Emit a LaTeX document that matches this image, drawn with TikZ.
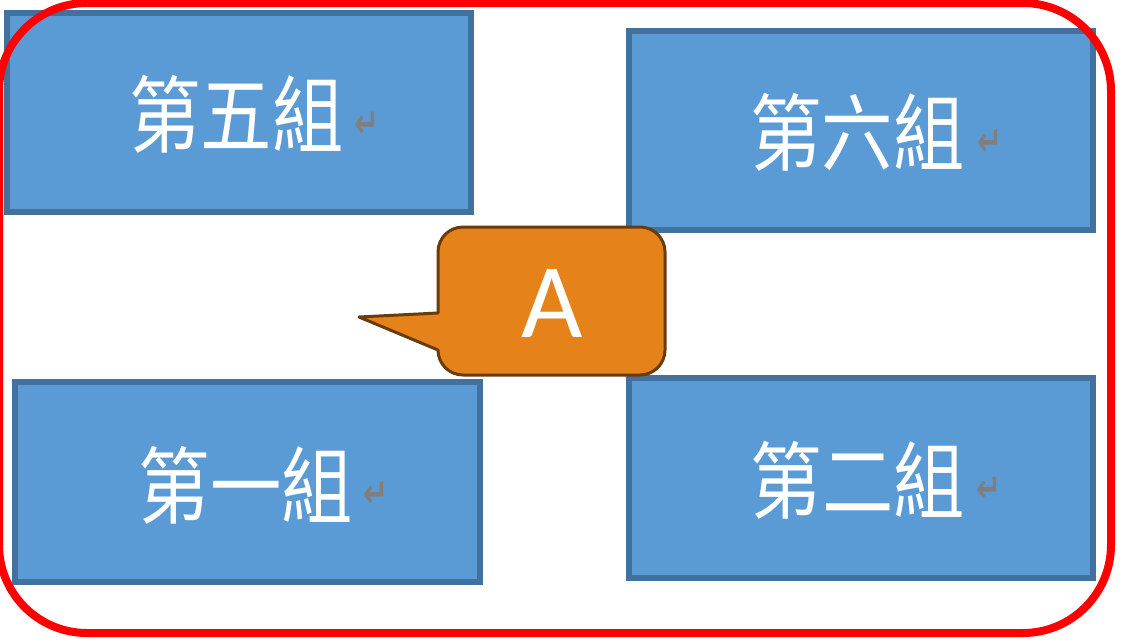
\documentclass[tikz,border=0pt]{standalone}
\usepackage{fontspec}
\newfontfamily\cjkfont{Noto Sans CJK TC}
\newfontfamily\dejavu{DejaVu Sans}
\newfontfamily\carlito{Carlito}
\definecolor{boxfill}{HTML}{5B9BD5}
\definecolor{boxline}{HTML}{41719C}
\definecolor{callfill}{HTML}{E5831A}
\definecolor{callline}{HTML}{6A3B0B}
\definecolor{retgray}{HTML}{7F7F7F}
\definecolor{framered}{HTML}{FF0000}
\tikzset{
  grp/.style={draw=boxline, fill=boxfill, line width=6pt, rectangle, inner sep=0pt, minimum width=464pt, minimum height=199pt},
  grplabel/.style={text=white, font=\cjkfont\fontsize{84}{90}\selectfont, xscale=0.85, inner sep=0pt},
  ret/.style={text=retgray, font=\dejavu\bfseries\fontsize{30}{32}\selectfont, inner sep=0pt, yscale=1.35, xshift=6pt},
  callout/.style={draw=callline, fill=callfill, line width=3pt, line join=round},
  calltext/.style={text=white, font=\carlito\fontsize{106}{110}\selectfont, inner sep=0pt},
  frame/.style={draw=framered, line width=8pt, rounded corners=88pt, rectangle, inner sep=0pt}
}
\begin{document}
\begin{tikzpicture}[x=1pt,y=-1pt]
\useasboundingbox (0,0) rectangle (1127,643);
% group boxes
\node[grp] (b5) at (239,112) {};
\node[grp] (b6) at (861,130) {};
\node[grp, minimum width=465pt, minimum height=199.5pt] (b1) at (247.5,481.75) {};
\node[grp, minimum height=200pt] (b2) at (861,478) {};
% labels
\node[grplabel] (t5) at (236.5,114) {第五組};
\node[ret] (r5) at (361,125) {↵};
\node[grplabel] (t6) at (857.5,132.5) {第六組};
\node[ret] (r6) at (984,143) {↵};
\node[grplabel] (t1) at (246,485) {第一組};
\node[ret] (r1) at (370,495) {↵};
\node[grplabel] (t2) at (858,480) {第二組};
\node[ret] (r2) at (983.5,490) {↵};
% callout
\draw[callout] (438,313) -- (438,252)
  .. controls (438,238.2) and (449.2,227) .. (463,227) -- (640,227)
  .. controls (653.8,227) and (665,238.2) .. (665,252) -- (665,350)
  .. controls (665,363.8) and (653.8,375) .. (640,375) -- (463,375)
  .. controls (449.2,375) and (438,363.8) .. (438,350) -- (359,317) -- cycle;
\node[calltext] (a) at (552,303.5) {A};
% red frame
\node[frame, minimum width=1112pt, minimum height=630pt] (fr) at (555,318) {};
\end{tikzpicture}
\end{document}
